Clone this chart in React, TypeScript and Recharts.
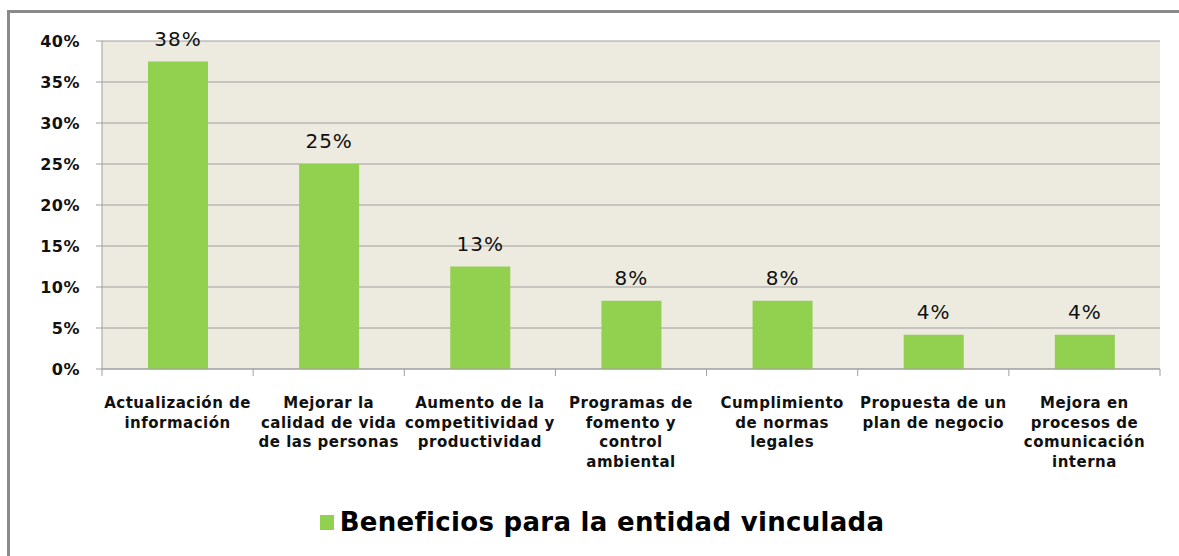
import React from 'react';
import { BarChart, Bar, XAxis, YAxis, CartesianGrid, Legend, LabelList } from 'recharts';

// Beneficios para la entidad vinculada
const categories = [
  'Actualización de información',
  'Mejorar la calidad de vida de las personas',
  'Aumento de la competitividad y productividad',
  'Programas de fomento y control ambiental',
  'Cumplimiento de normas legales',
  'Propuesta de un plan de negocio',
  'Mejora en procesos de comunicación interna',
];

const labelLines = [
  ['Actualización de', 'información'],
  ['Mejorar la', 'calidad de vida', 'de las personas'],
  ['Aumento de la', 'competitividad y', 'productividad'],
  ['Programas de', 'fomento y', 'control', 'ambiental'],
  ['Cumplimiento', 'de normas', 'legales'],
  ['Propuesta de un', 'plan de negocio'],
  ['Mejora en', 'procesos de', 'comunicación', 'interna'],
];

const values = [0.375, 0.25, 0.125, 0.0833, 0.0833, 0.0417, 0.0417];

const yTicks = [0, 0.05, 0.1, 0.15, 0.2, 0.25, 0.3, 0.35, 0.4];

const seriesName = 'Beneficios para la entidad vinculada';

const WIDTH = 1179;
const HEIGHT = 556;
const MARGIN = { top: 41, right: 19, bottom: 0, left: 22 };
const Y_AXIS_W = 80;
const BAND = (WIDTH - MARGIN.left - MARGIN.right - Y_AXIS_W) / categories.length;

const FONT = '"DejaVu Sans", Verdana, sans-serif';
const GREEN = '#92D050';
const GRID = '#9f9f9f';

const data = categories.map((name, i) => ({ name, value: values[i] }));

const pct = (v: number) => `${Math.round(v * 100)}%`;

const CategoryTick = (props: any) => {
  const { x, y, index } = props;
  const lines = labelLines[index] || [];
  const half = BAND / 2;
  return (
    <g>
      <line x1={x - half} y1={y} x2={x - half} y2={y + 7} stroke={GRID} />
      {index === categories.length - 1 && (
        <line x1={x + half} y1={y} x2={x + half} y2={y + 7} stroke={GRID} />
      )}
      <text
        x={x}
        y={y + 39}
        textAnchor="middle"
        fontFamily={FONT}
        fontWeight="bold"
        fontSize={15}
        letterSpacing={0.5}
        fill="#111"
      >
        {lines.map((l, i) => (
          <tspan key={i} x={x} dy={i === 0 ? 0 : 19.5}>
            {l}
          </tspan>
        ))}
      </text>
    </g>
  );
};

const LegendBox = () => (
  <div
    style={{
      height: 77,
      display: 'flex',
      justifyContent: 'center',
      alignItems: 'flex-start',
      paddingTop: 28,
      paddingLeft: 22,
      boxSizing: 'border-box',
    }}
  >
    <span style={{ width: 14, height: 15, background: GREEN, marginRight: 6, marginTop: 8 }} />
    <span style={{ fontFamily: FONT, fontWeight: 'bold', fontSize: 26, lineHeight: '30px', letterSpacing: 0.3, color: '#000' }}>
      {seriesName}
    </span>
  </div>
);

export default function App() {
  return (
    <div style={{ position: 'absolute', left: 0, top: 0, width: WIDTH, height: HEIGHT, background: '#fff', overflow: 'hidden' }}>
      <div
        style={{
          position: 'absolute',
          left: 7,
          top: 10,
          width: WIDTH,
          height: HEIGHT,
          borderTop: '3px solid #8a8a8a',
          borderLeft: '3px solid #8a8a8a',
        }}
      />
      <div style={{ position: 'absolute', left: 0, top: 0 }}>
        <BarChart width={WIDTH} height={HEIGHT} data={data} margin={MARGIN} barSize={60}>
          <CartesianGrid vertical={false} fill="#EDEAE0" stroke={GRID} />
          <XAxis
            dataKey="name"
            interval={0}
            height={110}
            tickLine={false}
            tickSize={0}
            tickMargin={0}
            stroke={GRID}
            tick={<CategoryTick />}
          />
          <YAxis
            width={Y_AXIS_W}
            domain={[0, 0.4]}
            ticks={yTicks}
            tickFormatter={pct}
            tickSize={6}
            tickMargin={16}
            stroke={GRID}
            tick={{ fontFamily: FONT, fontWeight: 'bold', fontSize: 16, fill: '#111', letterSpacing: 0.5 }}
          />
          <Legend verticalAlign="bottom" content={<LegendBox />} />
          <Bar dataKey="value" name={seriesName} fill={GREEN} isAnimationActive={false}>
            <LabelList
              dataKey="value"
              position="top"
              offset={16}
              formatter={(v: number) => pct(v)}
              style={{ fontFamily: FONT, fontSize: 20, fill: '#111', letterSpacing: 1 }}
            />
          </Bar>
        </BarChart>
      </div>
    </div>
  );
}
